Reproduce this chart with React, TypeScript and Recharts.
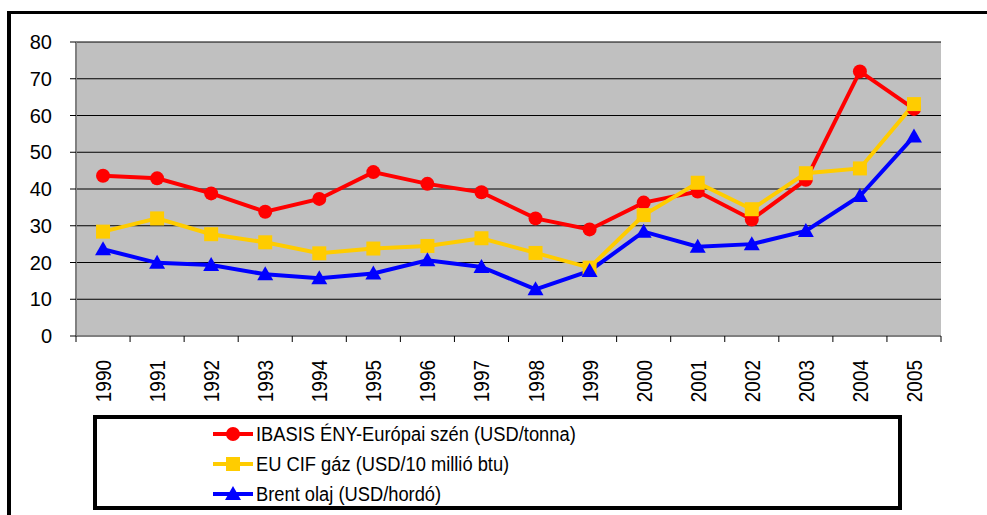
import React from 'react';
import { LineChart, Line, XAxis, YAxis, CartesianGrid, Legend } from 'recharts';

const years = ['1990', '1991', '1992', '1993', '1994', '1995', '1996', '1997', '1998', '1999', '2000', '2001', '2002', '2003', '2004', '2005'];
const coal = [43.6, 42.9, 38.8, 33.8, 37.3, 44.6, 41.4, 39.1, 32.0, 29.0, 36.3, 39.3, 31.7, 42.5, 72.0, 61.8];
const gas = [28.4, 32.0, 27.7, 25.5, 22.5, 23.8, 24.5, 26.6, 22.6, 18.6, 32.9, 41.7, 34.5, 44.3, 45.6, 63.1];
const oil = [23.6, 19.9, 19.3, 16.8, 15.7, 17.0, 20.6, 18.8, 12.7, 17.7, 28.4, 24.3, 25.0, 28.6, 38.1, 54.3];
const yTicks = [0, 10, 20, 30, 40, 50, 60, 70, 80];

const seriesInfo = [
  { key: 'coal', name: 'IBASIS ÉNY-Európai szén (USD/tonna)', color: '#FF0000', shape: 'circle' },
  { key: 'gas', name: 'EU CIF gáz (USD/10 millió btu)', color: '#FFCC00', shape: 'square' },
  { key: 'oil', name: 'Brent olaj (USD/hordó)', color: '#0000FF', shape: 'triangle' },
];

const rows = years.map((year, i) => ({ year, coal: coal[i], gas: gas[i], oil: oil[i] }));

const FONT = '"Liberation Sans", Arial, sans-serif';
const PLOT_WIDTH = 865;
const BAND = PLOT_WIDTH / years.length;

const Marker = ({ shape, color, cx, cy }: any) => {
  if (cx == null || cy == null) return null;
  if (shape === 'circle') return <circle cx={cx} cy={cy} r={7} fill={color} />;
  if (shape === 'square') return <rect x={cx - 7} y={cy - 7} width={14} height={14} fill={color} />;
  return <polygon points={`${cx},${cy - 8} ${cx + 8},${cy + 6} ${cx - 8},${cy + 6}`} fill={color} />;
};

const YearTick = ({ x, y, payload, index }: any) => {
  const left = x - BAND / 2;
  return (
    <g>
      <line x1={left} y1={y - 6} x2={left} y2={y} stroke="#000" strokeWidth={1} />
      {index === years.length - 1 && (
        <line x1={x + BAND / 2} y1={y - 6} x2={x + BAND / 2} y2={y} stroke="#000" strokeWidth={1} />
      )}
      <text
        transform={`translate(${x + 8},${y + 18}) rotate(-90) scale(1, 1.12)`}
        textAnchor="end"
        fontSize={19}
        fontFamily={FONT}
        fill="#000"
      >
        {payload.value}
      </text>
    </g>
  );
};

const LegendBox = () => (
  <div style={{ paddingLeft: 116 }}>
    {seriesInfo.map((s) => (
      <div key={s.key} style={{ display: 'flex', alignItems: 'center', height: 30 }}>
        <svg width={40} height={18} style={{ marginRight: 3 }}>
          <line x1={0} y1={9} x2={40} y2={9} stroke={s.color} strokeWidth={4} />
          <Marker shape={s.shape} color={s.color} cx={20} cy={9} />
        </svg>
        <span
          style={{
            fontSize: 20,
            fontFamily: FONT,
            color: '#000',
            whiteSpace: 'nowrap',
            display: 'inline-block',
            transform: 'scaleX(0.915)',
            transformOrigin: 'left center',
          }}
        >
          {s.name}
        </span>
      </div>
    ))}
  </div>
);

export default function App() {
  return (
    <div style={{ position: 'absolute', left: 0, top: 0, width: 987, height: 515, background: '#fff', overflow: 'hidden' }}>
      <div
        style={{
          position: 'absolute',
          left: 7,
          top: 11,
          width: 1000,
          height: 520,
          borderLeft: '4px solid #000',
          borderTop: '3px solid #000',
        }}
      />
      <LineChart width={987} height={515} data={rows} margin={{ top: 42, right: 46, left: 0, bottom: 109 }}>
        <CartesianGrid xAxisId="x" yAxisId="y" vertical={false} stroke="#000" strokeOpacity={1} fill="#C0C0C0" fillOpacity={1} />
        <XAxis
          xAxisId="x"
          dataKey="year"
          interval={0}
          height={70}
          padding={{ left: BAND / 2, right: BAND / 2 }}
          tickSize={6}
          tickMargin={0}
          tickLine={false}
          axisLine={{ stroke: '#808080', strokeWidth: 2 }}
          tick={<YearTick />}
        />
        <XAxis xAxisId="top" orientation="top" dataKey="year" height={0} tick={false} tickLine={false} axisLine={{ stroke: '#808080', strokeWidth: 2 }} />
        <YAxis
          yAxisId="y"
          width={76}
          domain={[0, 80]}
          ticks={yTicks}
          interval={0}
          tickSize={6}
          tickMargin={18}
          tickLine={{ stroke: '#000' }}
          axisLine={{ stroke: '#808080', strokeWidth: 2 }}
          tick={{ fill: '#000', fontSize: 20, fontFamily: FONT }}
        />
        <YAxis yAxisId="right" orientation="right" width={0} domain={[0, 80]} tick={false} tickLine={false} axisLine={{ stroke: '#808080', strokeWidth: 2 }} />
        {seriesInfo.map((s) => (
          <Line
            key={s.key}
            xAxisId="x"
            yAxisId="y"
            type="linear"
            dataKey={s.key}
            name={s.name}
            stroke={s.color}
            strokeWidth={4}
            isAnimationActive={false}
            activeDot={false}
            dot={(p: any) => <Marker key={`${s.key}-${p.index}`} shape={s.shape} color={s.color} cx={p.cx} cy={p.cy} />}
          />
        ))}
        <Legend
          layout="vertical"
          align="center"
          verticalAlign="middle"
          content={<LegendBox />}
          wrapperStyle={{
            position: 'absolute',
            left: 93,
            top: 415,
            width: 809,
            height: 95,
            border: '4px solid #000',
            boxSizing: 'border-box',
            background: '#fff',
          }}
        />
      </LineChart>
    </div>
  );
}
